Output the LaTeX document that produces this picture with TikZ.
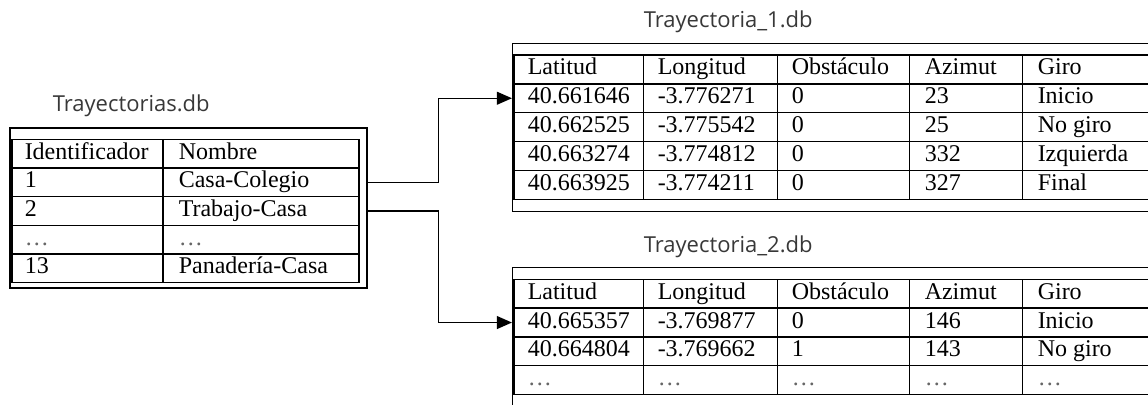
\documentclass[tikz,border=0pt]{standalone}
\usepackage{fontspec}
\setmainfont{Liberation Serif}
\newfontfamily\dbfont{Open Sans}
\usetikzlibrary{fit, positioning, arrows.meta}

\begin{document}
\begin{tikzpicture}[x=0.5pt, y=-0.5pt, line width=0.75pt,
    cell/.style={anchor=west, inner sep=0pt, text height=8pt, text depth=2.4pt,
        font=\fontsize{12}{14}\selectfont},
    frame/.style={draw, inner sep=0pt},
    dbname/.style={anchor=base west, inner sep=0pt, text=black!78,
        font=\dbfont\fontsize{11}{13}\selectfont},
    link/.style={-{Triangle[length=7.5pt, width=6.4pt]}, line width=0.7pt}]

\useasboundingbox (0,0) rectangle (1148,405);
\clip (0,0) rectangle (1148,405);

% Trayectorias.db
\coordinate (traysnw) at (10,128);
\coordinate (traysse) at (367,288);
\node (trays) [frame, fit=(traysnw) (traysse)] {};
\node (traysname) at (52,112) [dbname] {Trayectorias.db};
\draw (12,139.5) rectangle (359,282.5);
\foreach \y in {168.1,196.7,225.3,253.9}
    \draw (12,\y) -- (359,\y);
\draw (163,139.5) -- (163,282.5);
\foreach \i/\id/\nombre in {0/Identificador/Nombre, 1/1/Casa-Colegio, 2/2/Trabajo-Casa,
        3/\textcolor{black!60}{\dots}/\textcolor{black!60}{\dots}, 4/13/Panadería-Casa} {
    \node (id\i) at (24,{153.8+28.6*\i}) [cell] {\id};
    \node (nom\i) at (178,{153.8+28.6*\i}) [cell] {\nombre};
}

% Trayectoria_1.db
\coordinate (tray1nw) at (512.7,43.3);
\coordinate (tray1se) at (1170,211.7);
\node (tray1) [frame, fit=(tray1nw) (tray1se)] {};
\node (tray1name) at (643,28) [dbname] {Trayectoria\_1.db};
\draw (514,55) rectangle (1170,199.3);
\foreach \y in {83.9,112.7,141.6,170.4}
    \draw (514,\y) -- (1170,\y);
\foreach \x in {643.3,777.7,909.3,1022.7}
    \draw (\x,55) -- (\x,199.3);
\foreach \i/\lat/\lon/\obs/\azi/\giro in {0/Latitud/Longitud/Obstáculo/Azimut/Giro,
        1/40.661646/-3.776271/0/23/Inicio, 2/40.662525/-3.775542/0/25/No giro,
        3/40.663274/-3.774812/0/332/Izquierda, 4/40.663925/-3.774211/0/327/Final} {
    \node (t1lat\i) at (527,{69.4+28.85*\i}) [cell] {\lat};
    \node (t1lon\i) at (657,{69.4+28.85*\i}) [cell] {\lon};
    \node (t1obs\i) at (791,{69.4+28.85*\i}) [cell] {\obs};
    \node (t1azi\i) at (924,{69.4+28.85*\i}) [cell] {\azi};
    \node (t1giro\i) at (1037,{69.4+28.85*\i}) [cell] {\giro};
}

% Trayectoria_2.db
\coordinate (tray2nw) at (512.7,267.3);
\coordinate (tray2se) at (1170,430);
\node (tray2) [frame, fit=(tray2nw) (tray2se)] {};
\node (tray2name) at (643,253) [dbname] {Trayectoria\_2.db};
\draw (514,279.5) rectangle (1170,394.3);
\foreach \y in {308.2,336.9,365.6}
    \draw (514,\y) -- (1170,\y);
\foreach \x in {643.3,777.7,909.3,1022.7}
    \draw (\x,279.5) -- (\x,394.3);
\foreach \i/\lat/\lon/\obs/\azi/\giro in {0/Latitud/Longitud/Obstáculo/Azimut/Giro,
        1/40.665357/-3.769877/0/146/Inicio, 2/40.664804/-3.769662/1/143/No giro,
        3/\textcolor{black!60}{\dots}/\textcolor{black!60}{\dots}/\textcolor{black!60}{\dots}/\textcolor{black!60}{\dots}/\textcolor{black!60}{\dots}} {
    \node (t2lat\i) at (527,{293.85+28.7*\i}) [cell] {\lat};
    \node (t2lon\i) at (657,{293.85+28.7*\i}) [cell] {\lon};
    \node (t2obs\i) at (791,{293.85+28.7*\i}) [cell] {\obs};
    \node (t2azi\i) at (924,{293.85+28.7*\i}) [cell] {\azi};
    \node (t2giro\i) at (1037,{293.85+28.7*\i}) [cell] {\giro};
}

\draw[link] (trays.east |- nom1) -- ++(71,0) |- (tray1.west |- t1lat1);
\draw[link] (trays.east |- nom2) -- ++(71,0) |- (tray2.west |- t2lat1);
\end{tikzpicture}
\end{document}
